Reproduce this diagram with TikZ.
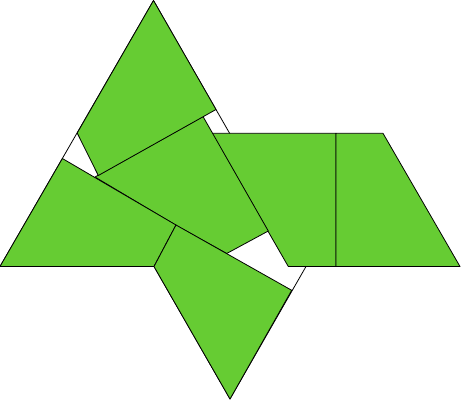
\documentclass[tikz,border=0pt]{standalone}
\definecolor{piecegreen}{RGB}{102,204,51}
\tikzset{
  piece/.style={fill=piecegreen, draw=black, line width=0.8pt, line join=round},
  outline/.style={draw=black, line width=0.8pt, line join=round}
}
\begin{document}
\begin{tikzpicture}[x=1pt,y=-1pt]
\useasboundingbox (0,0) rectangle (461,400);
% outer outline of the figure
\coordinate (apex) at (153.5,0.5);
\coordinate (bl) at (0,266.5);
\coordinate (br) at (306,266.5);
\coordinate (bm) at (154,266.5);
\coordinate (bot) at (230,399);
\coordinate (knee) at (176,225);
\draw[outline] (apex) -- (br) -- (bot) -- (bm) -- (bl) -- cycle;
% pieces of the parallelogram
\draw[piece] (211.7,133.3) -- (336,133.3) -- (336,266.5) -- (288.3,266.5) -- cycle;
\draw[piece] (336,133.3) -- (383,133.3) -- (460,266.5) -- (336,266.5) -- cycle;
% middle piece
\draw[piece] (95,177) -- (203,116.5) -- (268.3,231) -- (226.7,253.5) -- (176,225.3) -- cycle;
% top piece
\draw[piece] (apex) -- (77.2,133) -- (98.3,175.5) -- (216,109.5) -- cycle;
% left piece
\draw[piece] (62.4,158.5) -- (bl) -- (bm) -- (knee) -- cycle;
% lower piece
\draw[piece] (knee) -- (bm) -- (bot) -- (291.7,290.3) -- cycle;
\end{tikzpicture}
\end{document}
